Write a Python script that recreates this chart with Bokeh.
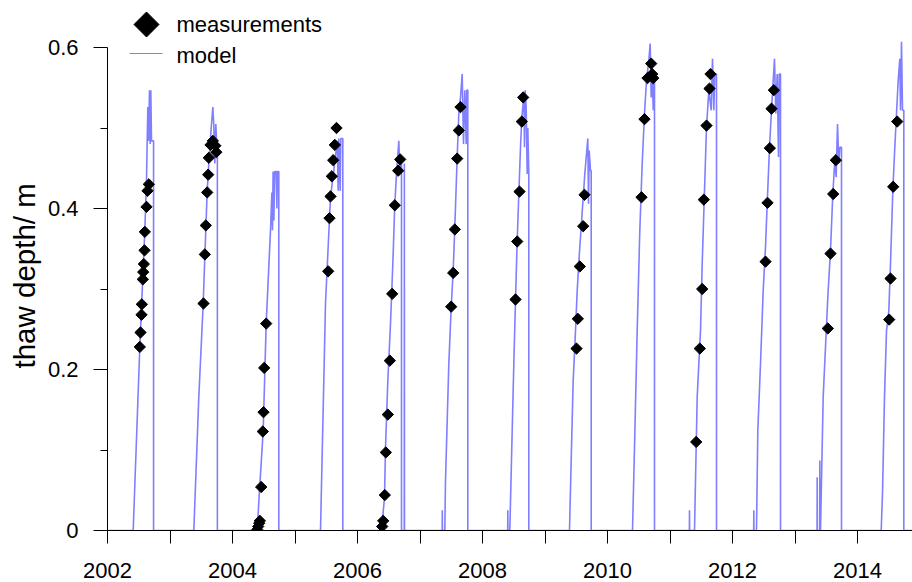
import numpy as np
from bokeh.plotting import figure
from bokeh.models import (ColumnDataSource, FixedTicker, CustomJSTickFormatter, Range1d,
                          PolyAnnotation, Label, Title)
from bokeh.embed import file_html
from bokeh.resources import INLINE

# ---------------- data ----------------
meas_year = [
    2002.517, 2002.528, 2002.544, 2002.549, 2002.565, 2002.571, 2002.581, 2002.592, 2002.597, 2002.624, 2002.640, 2002.661,
    2003.536, 2003.557, 2003.573, 2003.595, 2003.611, 2003.621, 2003.648, 2003.685, 2003.725, 2003.741,
    2004.395, 2004.411, 2004.427, 2004.437, 2004.459, 2004.485, 2004.496, 2004.507, 2004.539,
    2005.531, 2005.552, 2005.568, 2005.589, 2005.611, 2005.637, 2005.664,
    2006.395, 2006.411, 2006.437, 2006.453, 2006.485, 2006.517, 2006.555, 2006.597, 2006.651, 2006.683,
    2007.499, 2007.531, 2007.557, 2007.595, 2007.621, 2007.648,
    2008.528, 2008.555, 2008.592, 2008.629, 2008.651,
    2009.504, 2009.525, 2009.557, 2009.611, 2009.632,
    2010.544, 2010.592, 2010.640, 2010.699, 2010.715, 2010.731,
    2011.419, 2011.477, 2011.515, 2011.541, 2011.584, 2011.632, 2011.648,
    2012.528, 2012.560, 2012.597, 2012.624, 2012.661,
    2013.525, 2013.568, 2013.611, 2013.653,
    2014.507, 2014.528, 2014.571, 2014.635,
]
meas_depth = [
    0.228, 0.246, 0.268, 0.281, 0.312, 0.321, 0.331, 0.348, 0.371, 0.402, 0.422, 0.430,
    0.282, 0.343, 0.379, 0.420, 0.442, 0.463, 0.479, 0.484, 0.478, 0.470,
    0.001, 0.005, 0.009, 0.012, 0.054, 0.123, 0.147, 0.202, 0.257,
    0.322, 0.388, 0.415, 0.440, 0.460, 0.479, 0.500,
    0.005, 0.012, 0.044, 0.097, 0.144, 0.211, 0.294, 0.404, 0.447, 0.461,
    0.278, 0.320, 0.374, 0.462, 0.497, 0.526,
    0.287, 0.359, 0.421, 0.508, 0.538,
    0.226, 0.263, 0.328, 0.378, 0.417,
    0.414, 0.511, 0.562, 0.580, 0.567, 0.562,
    0.110, 0.226, 0.300, 0.411, 0.503, 0.549, 0.567,
    0.334, 0.407, 0.475, 0.524, 0.547,
    0.251, 0.344, 0.418, 0.460,
    0.262, 0.313, 0.427, 0.508,
]

model_year = [
    2002.000,
    2002.411, 2002.517, 2002.597, 2002.624, 2002.645, 2002.656, 2002.672, 2002.683, 2002.693, 2002.704, 2002.725, 2002.737, 2002.737,
    2003.381, 2003.461, 2003.531, 2003.595, 2003.621, 2003.664, 2003.685, 2003.700, 2003.717, 2003.733, 2003.749, 2003.758, 2003.758,
    2004.395, 2004.432, 2004.491, 2004.539, 2004.608, 2004.630, 2004.640, 2004.650, 2004.662, 2004.675, 2004.700, 2004.710, 2004.720, 2004.741, 2004.741,
    2005.408, 2005.488, 2005.568, 2005.621, 2005.675, 2005.691, 2005.701, 2005.723, 2005.733, 2005.755, 2005.765, 2005.765,
    2006.384, 2006.432, 2006.448, 2006.485, 2006.528, 2006.565, 2006.597, 2006.624, 2006.661, 2006.677, 2006.693, 2006.704, 2006.704,
    2006.748, 2006.750, 2006.752,
    2007.355, 2007.357, 2007.359,
    2007.397, 2007.408, 2007.461, 2007.499, 2007.531, 2007.557, 2007.595, 2007.621, 2007.648, 2007.675, 2007.696, 2007.717, 2007.739, 2007.749, 2007.765, 2007.765,
    2008.403, 2008.405, 2008.407,
    2008.437, 2008.475, 2008.501, 2008.528, 2008.555, 2008.581, 2008.608, 2008.629, 2008.645, 2008.661, 2008.672, 2008.683, 2008.699, 2008.715, 2008.725, 2008.741, 2008.741,
    2009.392, 2009.424, 2009.451, 2009.488, 2009.515, 2009.547, 2009.579, 2009.611, 2009.637, 2009.664, 2009.685, 2009.696, 2009.707, 2009.728, 2009.739, 2009.739,
    2010.400, 2010.432, 2010.475, 2010.517, 2010.555, 2010.592, 2010.624, 2010.661, 2010.683, 2010.699, 2010.715, 2010.731, 2010.741, 2010.752, 2010.752,
    2011.310, 2011.312, 2011.314,
    2011.392, 2011.435, 2011.488, 2011.515, 2011.552, 2011.584, 2011.621, 2011.659, 2011.680, 2011.701, 2011.717, 2011.744, 2011.744,
    2012.339, 2012.341, 2012.343,
    2012.384, 2012.405, 2012.448, 2012.491, 2012.528, 2012.555, 2012.592, 2012.624, 2012.651, 2012.672, 2012.693, 2012.715, 2012.736, 2012.747, 2012.768, 2012.768,
    2013.353, 2013.355, 2013.357, 2013.395, 2013.397, 2013.399,
    2013.408, 2013.451, 2013.488, 2013.525, 2013.568, 2013.605, 2013.637, 2013.659, 2013.680, 2013.701, 2013.717, 2013.744, 2013.744,
    2014.379, 2014.400, 2014.432, 2014.464, 2014.501, 2014.528, 2014.565, 2014.597, 2014.624, 2014.651, 2014.677, 2014.688, 2014.704, 2014.720, 2014.741, 2014.741,
    2014.880,
]
model_depth = [
    0.0,
    0.0, 0.228, 0.373, 0.435, 0.526, 0.484, 0.547, 0.480, 0.547, 0.484, 0.484, 0.484, 0.0,
    0.0, 0.166, 0.282, 0.422, 0.456, 0.505, 0.526, 0.505, 0.456, 0.505, 0.476, 0.476, 0.0,
    0.0, 0.050, 0.124, 0.257, 0.373, 0.420, 0.373, 0.446, 0.385, 0.446, 0.446, 0.400, 0.446, 0.446, 0.0,
    0.0, 0.282, 0.414, 0.447, 0.484, 0.422, 0.487, 0.422, 0.487, 0.487, 0.487, 0.0,
    0.0, 0.041, 0.103, 0.186, 0.257, 0.331, 0.406, 0.443, 0.484, 0.443, 0.456, 0.456, 0.0,
    0.0, 0.456, 0.0,
    0.0, 0.025, 0.0,
    0.0, 0.062, 0.207, 0.277, 0.323, 0.377, 0.464, 0.518, 0.538, 0.567, 0.480, 0.547, 0.480, 0.547, 0.547, 0.0,
    0.0, 0.025, 0.0,
    0.0, 0.124, 0.207, 0.286, 0.360, 0.418, 0.476, 0.513, 0.526, 0.538, 0.476, 0.547, 0.526, 0.443, 0.500, 0.443, 0.0,
    0.0, 0.103, 0.186, 0.248, 0.298, 0.340, 0.377, 0.414, 0.443, 0.468, 0.487, 0.406, 0.472, 0.447, 0.447, 0.0,
    0.0, 0.103, 0.248, 0.373, 0.456, 0.518, 0.559, 0.584, 0.605, 0.538, 0.576, 0.522, 0.559, 0.559, 0.0,
    0.0, 0.025, 0.0,
    0.0, 0.166, 0.248, 0.331, 0.422, 0.501, 0.547, 0.522, 0.586, 0.522, 0.567, 0.567, 0.0,
    0.0, 0.025, 0.0,
    0.0, 0.124, 0.207, 0.298, 0.352, 0.406, 0.476, 0.522, 0.559, 0.586, 0.518, 0.567, 0.464, 0.567, 0.567, 0.0,
    0.0, 0.066, 0.0, 0.0, 0.087, 0.0,
    0.0, 0.166, 0.228, 0.290, 0.348, 0.418, 0.460, 0.439, 0.505, 0.456, 0.476, 0.476, 0.0,
    0.0, 0.046, 0.166, 0.248, 0.273, 0.331, 0.422, 0.476, 0.518, 0.559, 0.586, 0.522, 0.607, 0.522, 0.522, 0.0,
    0.0,
]

x_major = [2002, 2004, 2006, 2008, 2010, 2012, 2014]
x_minor = [2003, 2005, 2007, 2009, 2011, 2013]
y_major = [0.0, 0.2, 0.4, 0.6]
y_minor = [0.1, 0.3, 0.5]

FONT = "Liberation Sans"
BLUE = "#7f7fff"

p = figure(width=912, height=582, output_backend="svg", toolbar_location=None,
           x_range=Range1d(2002.0, 2014.88), y_range=Range1d(0.0, 0.6584),
           min_border_left=107, min_border_right=0, min_border_top=0, min_border_bottom=52)
p.outline_line_color = None
p.xgrid.visible = False
p.ygrid.visible = False
p.background_fill_color = "white"
p.border_fill_color = "white"

p.line(model_year, model_depth, line_color=BLUE, line_width=1.6)
src = ColumnDataSource(dict(x=meas_year, y=meas_depth))
p.scatter("x", "y", source=src, marker="square", angle=np.pi / 4, size=8,
          fill_color="black", line_color="black")

# axes
xa = p.xaxis[0]
xa.ticker = FixedTicker(ticks=x_major, minor_ticks=x_minor)
xa.formatter = CustomJSTickFormatter(code="return tick.toFixed(0)")
xa.major_tick_out = 13
xa.major_tick_in = 0
xa.minor_tick_out = 13
xa.minor_tick_in = 0
xa.major_label_standoff = 19
xa.major_label_text_line_height = 0.8
xa.major_label_text_font = FONT
xa.major_label_text_font_size = "22px"
xa.major_label_text_color = "black"
xa.axis_line_color = "black"
xa.major_tick_line_color = "black"
xa.minor_tick_line_color = "black"

ya = p.yaxis[0]
ya.ticker = FixedTicker(ticks=y_major, minor_ticks=y_minor)
ya.formatter = CustomJSTickFormatter(code="return tick == 0 ? '0' : tick.toFixed(1)")
ya.bounds = (0.0, 0.6)
ya.major_tick_out = 14
ya.major_tick_in = 0
ya.minor_tick_out = 7
ya.minor_tick_in = 0
ya.major_label_standoff = 15
ya.major_label_text_font = FONT
ya.major_label_text_font_size = "22px"
ya.major_label_text_color = "black"
ya.axis_line_color = "black"
ya.major_tick_line_color = "black"
ya.minor_tick_line_color = "black"

# y-axis title as a side title
p.add_layout(Title(text="thaw depth/ m", align="left", offset=162, standoff=8,
                   text_font=FONT, text_font_size="29.5px", text_font_style="normal",
                   text_color="black"), "left")

# legend (screen units, relative to the plot frame)
cx, cy, r = 39, 506, 12.5
p.add_layout(PolyAnnotation(xs=[cx, cx + r, cx, cx - r], ys=[cy + r, cy, cy - r, cy],
                            xs_units="screen", ys_units="screen",
                            fill_color="black", fill_alpha=1.0, line_color="black", line_alpha=1.0))
p.add_layout(PolyAnnotation(xs=[22, 55], ys=[477, 477], xs_units="screen", ys_units="screen",
                            fill_alpha=0.0, line_color=BLUE, line_alpha=1.0, line_width=1.2))
p.add_layout(Label(x=69, y=506, x_units="screen", y_units="screen", text="measurements",
                   text_font=FONT, text_font_size="22px", text_baseline="middle", text_color="black"))
p.add_layout(Label(x=69, y=475, x_units="screen", y_units="screen", text="model",
                   text_font=FONT, text_font_size="22px", text_baseline="middle", text_color="black"))

open("out.html", "w").write(file_html(p, INLINE))
